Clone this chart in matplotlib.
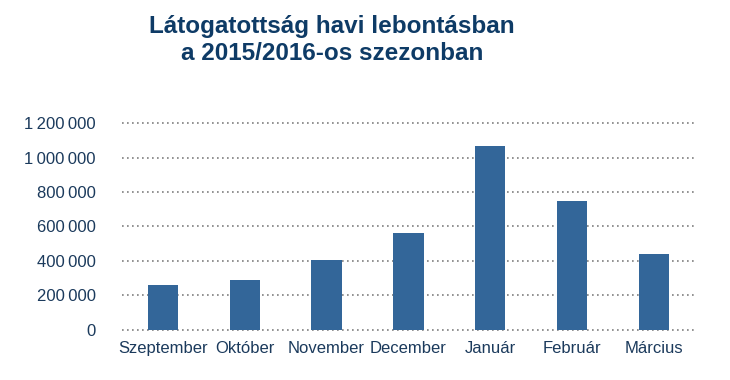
import matplotlib.pyplot as plt

months = ['Szeptember', 'Október', 'November', 'December', 'Január', 'Február', 'Március']
visitors = [262000, 291000, 408000, 565000, 1066000, 746000, 443000]
y_ticks = [0, 200000, 400000, 600000, 800000, 1000000, 1200000]
y_labels = ['0', '200\u2009000', '400\u2009000', '600\u2009000', '800\u2009000',
            '1\u2009000\u2009000', '1\u2009200\u2009000']

text_col = '#1b3a5c'
bar_col = '#336699'

plt.rcParams['font.family'] = ['Liberation Sans', 'DejaVu Sans']

fig = plt.figure(figsize=(7.3, 3.8), dpi=100)
ax = fig.add_axes([0.167, 0.132, 0.785, 0.544])

ax.bar(range(len(months)), visitors, width=0.37, color=bar_col, zorder=3)
ax.set_xlim(-0.5, len(months) - 0.5)
ax.set_ylim(0, 1200000)
ax.set_yticks(y_ticks)
ax.set_yticklabels(y_labels)
ax.set_xticks(range(len(months)))
ax.set_xticklabels(months)
ax.grid(axis='y', linestyle=(0, (1, 2)), color='#7f7f7f', linewidth=1.2, zorder=0)
ax.tick_params(length=0, labelsize=12, labelcolor=text_col)
ax.tick_params(axis='y', pad=19)
ax.tick_params(axis='x', pad=8)
for s in ax.spines.values():
    s.set_visible(False)
for line in ax.get_ygridlines():
    line.set_clip_on(False)

fig.suptitle('Látogatottság havi lebontásban\na 2015/2016-os szezonban',
             x=0.455, y=0.96, fontsize=17.5, fontweight='bold', color='#0e3b66',
             linespacing=1.2)

fig.savefig('out.png', dpi=100)
